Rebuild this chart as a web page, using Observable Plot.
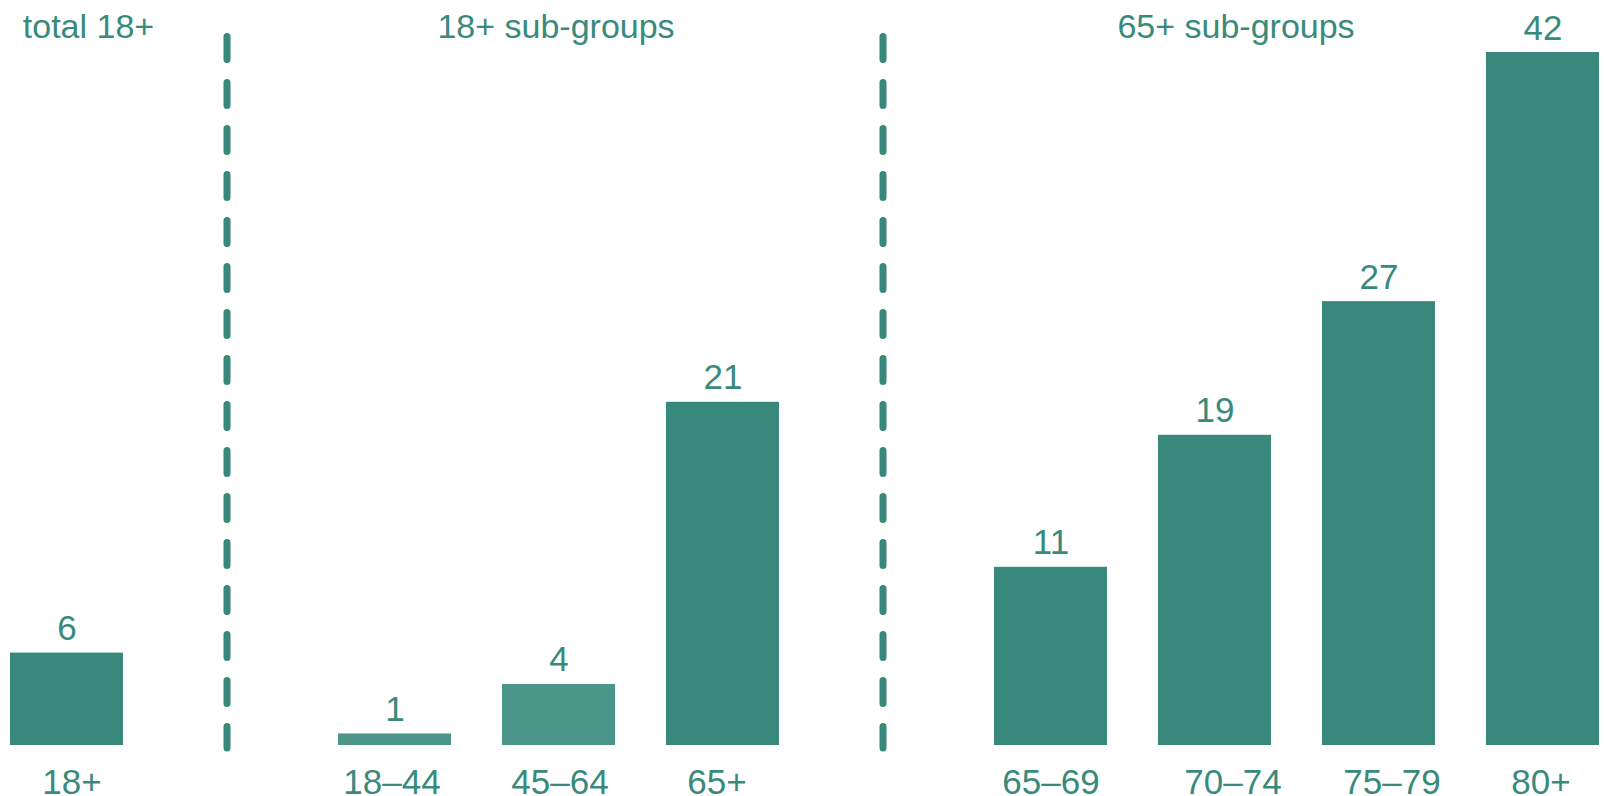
<!DOCTYPE html>
<html>
<head>
<meta charset="utf-8">
<script src="https://cdn.jsdelivr.net/npm/d3@7"></script>
<script src="https://cdn.jsdelivr.net/npm/@observablehq/plot@0.6"></script>
<style>
  html, body { margin: 0; padding: 0; background: #ffffff; }
  #chart { width: 1604px; height: 796px; overflow: hidden; }
</style>
</head>
<body>
<div id="chart"></div>
<script>
// ---- data ----
const categories = ["18+", "18–44", "45–64", "65+", "65–69", "70–74", "75–79", "80+"];
const values = [5.6, 0.7, 3.7, 20.8, 10.8, 18.8, 26.9, 42.0];
const valueLabels = ["6", "1", "4", "21", "11", "19", "27", "42"];
const shades = ["dark", "light", "light", "dark", "dark", "dark", "dark", "dark"];
const slots = ["18+", "sep1", "18–44", "45–64", "65+", "sep2", "65–69", "70–74", "75–79", "80+"];
const separators = ["sep1", "sep2"];
const groupTitles = ["total 18+", "18+ sub-groups", "65+ sub-groups"];
const groupAnchors = ["18+", "45–64", "70–74"];

const rows = categories.map((c, i) => ({cat: c, value: values[i], label: valueLabels[i], shade: shades[i]}));

const TEXT = "#3A8A7C";
const FONT = "'Liberation Sans', Arial, Helvetica, sans-serif";
const FS = 35;
const TITLE_FS = 34;
const titleDx = [21.5, -3, 21];
const tickDx = [5, -3, 1, -6, 0, 18, 13, -2];

const chart = Plot.plot({
  width: 1604,
  height: 796,
  marginTop: 52,
  marginBottom: 51,
  marginLeft: 10,
  marginRight: 5,
  style: {fontFamily: FONT, background: "#ffffff"},
  x: {type: "band", domain: slots, paddingInner: 0.311, paddingOuter: 0, axis: null},
  y: {domain: [0, 42], axis: null},
  color: {domain: ["dark", "light"], range: ["#38887B", "#4C9589"]},
  marks: [
    Plot.barY(rows, {x: "cat", y: "value", fill: "shade"}),
    Plot.text(rows, {x: "cat", y: "value", text: "label", lineAnchor: "bottom", dy: -13, fontSize: FS, fill: TEXT}),
    ...categories.map((c, i) => Plot.text([c], {
      x: d => d, text: d => d, frameAnchor: "bottom", lineAnchor: "top",
      dy: 24, dx: tickDx[i], fontSize: FS, fill: TEXT
    })),
    Plot.ruleX(separators, {x: d => d, dx: -4, stroke: "#38887B", strokeWidth: 7, strokeLinecap: "round", strokeDasharray: "23 23", insetTop: -15.5, insetBottom: -3}),
    ...groupTitles.map((t, i) => Plot.text([t], {
      x: () => groupAnchors[i], text: d => d, frameAnchor: "top", lineAnchor: "bottom",
      dy: -15, dx: titleDx[i], fontSize: TITLE_FS, fill: TEXT
    }))
  ]
});
document.getElementById("chart").appendChild(chart);
</script>
</body>
</html>
